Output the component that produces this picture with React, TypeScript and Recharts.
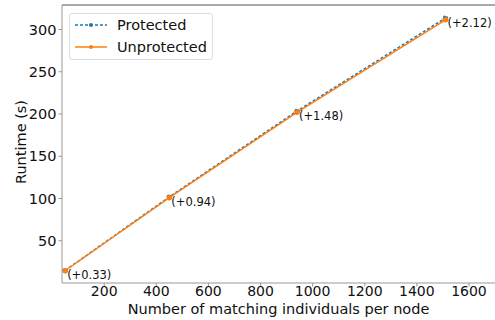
import { ComposedChart, Line, XAxis, YAxis, Legend, ReferenceLine, LabelList } from 'recharts';

// matching individuals per node
const sizes = [50, 450, 940, 1510];
// runtime in seconds
const unprotectedRuntime = [14.5, 101, 202, 311.5];
const protectedRuntime = [14.83, 101.94, 203.48, 313.62];
const overheadLabels = ['(+0.33)', '(+0.94)', '(+1.48)', '(+2.12)'];

const xTicks = [200, 400, 600, 800, 1000, 1200, 1400, 1600];
const yTicks = [50, 100, 150, 200, 250, 300];

const BLUE = '#1f77b4';
const ORANGE = '#ff7f0e';
const FONT = 'DejaVu Sans, sans-serif';

const data = sizes.map((n, i) => ({
  n,
  prot: protectedRuntime[i],
  unprot: unprotectedRuntime[i],
  label: overheadLabels[i],
}));

function OverheadLabel(props: any) {
  const { x, y, value } = props;
  return (
    <text x={x + 2} y={y + 5} dominantBaseline="central" fontSize={11.5} fontFamily={FONT} fill="#111">
      {value}
    </text>
  );
}

function YLabel() {
  return (
    <text x={21} y={142} transform="rotate(-90 21 142)" textAnchor="middle" dominantBaseline="central" fontSize={14.5} fontFamily={FONT} fill="#111">
      Runtime (s)
    </text>
  );
}

function XLabel(props: any) {
  const { viewBox } = props;
  const cx = viewBox ? viewBox.x + viewBox.width / 2 : 278;
  return (
    <text x={cx} y={314} textAnchor="middle" fontSize={14.5} fontFamily={FONT} fill="#111">
      Number of matching individuals per node
    </text>
  );
}

function LegendBox() {
  const rows = [
    { name: 'Protected', color: BLUE, dash: '3 2' },
    { name: 'Unprotected', color: ORANGE, dash: undefined },
  ];
  return (
    <div
      style={{
        position: 'relative',
        width: 144,
        height: 47,
        boxSizing: 'border-box',
        border: '1px solid #ddd',
        borderRadius: 3,
        background: 'rgba(255,255,255,0.8)',
        fontFamily: FONT,
        fontSize: 14.5,
        color: '#111',
      }}
    >
      {rows.map((r, i) => (
        <div key={r.name} style={{ position: 'absolute', left: 4, top: 1 + i * 22, height: 20, display: 'flex', alignItems: 'center' }}>
          <svg width={34} height={10}>
            <line x1={1} y1={5} x2={33} y2={5} stroke={r.color} strokeWidth={1.5} strokeDasharray={r.dash} />
            <circle cx={17} cy={5} r={2} fill={r.color} />
          </svg>
          <span style={{ marginLeft: 9 }}>{r.name}</span>
        </div>
      ))}
    </div>
  );
}

export default function App() {
  return (
    <div style={{ width: 495, height: 320, background: '#fff' }}>
      <style>{'body { margin: 0; }'}</style>
      <ComposedChart width={495} height={320} data={data} margin={{ top: 5, right: 0, bottom: 0, left: 0 }}>
        <XAxis
          dataKey="n"
          type="number"
          domain={[38, 1700]}
          ticks={xTicks}
          allowDataOverflow
          height={37}
          tickSize={3.5}
          tickMargin={0}
          stroke="#999"
          tick={{ fill: '#111', fontSize: 14, fontFamily: FONT }}
          label={<XLabel />}
        />
        <YAxis
          type="number"
          domain={[0, 329]}
          ticks={yTicks}
          allowDataOverflow
          width={62}
          tickSize={3.5}
          stroke="#999"
          tick={{ fill: '#111', fontSize: 14.5, fontFamily: FONT }}
          label={<YLabel />}
        />
        <ReferenceLine y={329} stroke="#555" strokeWidth={1} />
        <Legend layout="horizontal" verticalAlign="middle" align="center" content={<LegendBox />} wrapperStyle={{ left: 69, top: 13, width: 144, height: 47 }} />
        <Line
          dataKey="prot"
          name="Protected"
          stroke={BLUE}
          strokeWidth={1.5}
          strokeDasharray="3 2"
          dot={{ r: 2, fill: BLUE, stroke: BLUE }}
          isAnimationActive={false}
        >
          <LabelList dataKey="label" content={<OverheadLabel />} />
        </Line>
        <Line
          dataKey="unprot"
          name="Unprotected"
          stroke={ORANGE}
          strokeWidth={1.5}
          dot={{ r: 2, fill: ORANGE, stroke: ORANGE }}
          isAnimationActive={false}
        />
      </ComposedChart>
    </div>
  );
}
